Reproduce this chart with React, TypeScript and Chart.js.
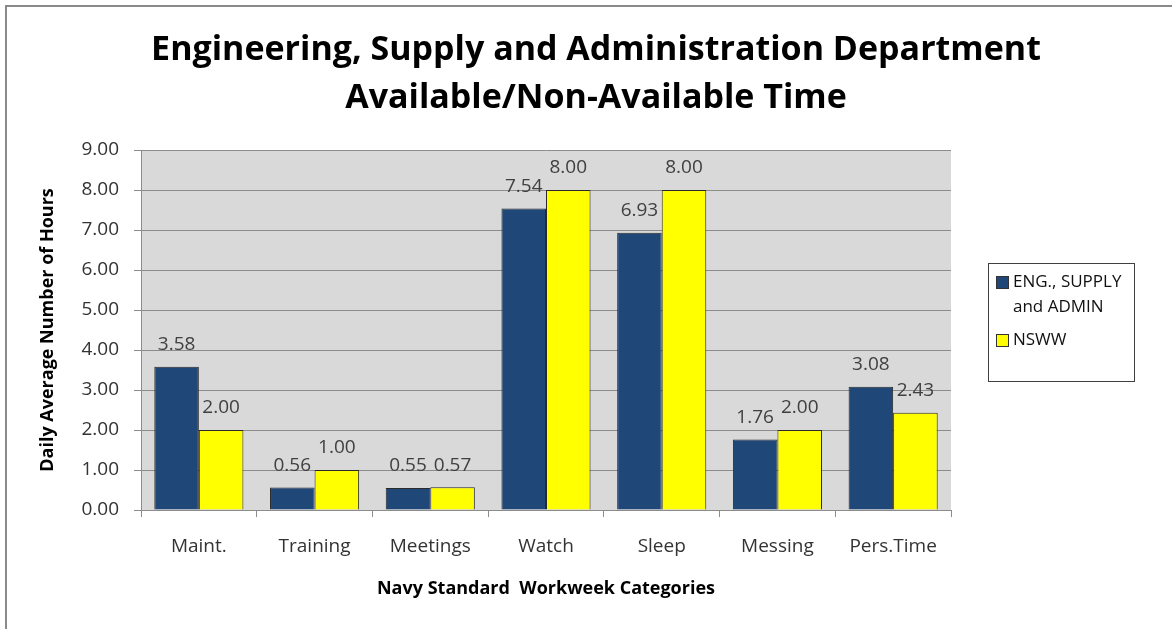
import React, { useEffect, useRef } from "react";
import { Chart, registerables } from "chart.js";

Chart.register(...registerables);

const titleLines = ["Engineering, Supply and Administration Department", "Available/Non-Available Time"];
const categories = ["Maint.", "Training", "Meetings", "Watch", "Sleep", "Messing", "Pers.Time"];
const engLabel = "ENG., SUPPLY and ADMIN";
const engLegendLines = ["ENG., SUPPLY", "and ADMIN"];
const engValues = [3.58, 0.56, 0.55, 7.54, 6.93, 1.76, 3.08];
const nswwLabel = "NSWW";
const nswwValues = [2.0, 1.0, 0.57, 8.0, 8.0, 2.0, 2.43];
const yTitle = "Daily Average Number of Hours";
const xTitle = "Navy Standard  Workweek Categories";
const yMin = 0;
const yMax = 9;
const yStep = 1;

const BLUE = "#1F4778";
const YELLOW = "#FFFF00";
const FONT = "'Open Sans', 'Noto Sans', sans-serif";

const framePlugin = {
  id: "frame",
  beforeDraw(chart: any) {
    const { ctx, chartArea } = chart;
    ctx.save();
    ctx.fillStyle = "#ffffff";
    ctx.fillRect(0, 0, chart.width, chart.height);
    ctx.fillStyle = "#8a8a8a";
    ctx.fillRect(5, 5, chart.width - 5, 2);
    ctx.fillRect(5, 5, 2, chart.height - 5);
    ctx.fillStyle = "#D9D9D9";
    ctx.fillRect(chartArea.left, chartArea.top, chartArea.right - chartArea.left, chartArea.bottom - chartArea.top);
    ctx.restore();
  },
};

const valueLabelPlugin = {
  id: "valueLabels",
  afterDatasetsDraw(chart: any) {
    const { ctx } = chart;
    ctx.save();
    ctx.font = `19px ${FONT}`;
    ctx.fillStyle = "#404040";
    ctx.textAlign = "center";
    ctx.textBaseline = "middle";
    chart.data.datasets.forEach((ds: any, di: number) => {
      const meta = chart.getDatasetMeta(di);
      meta.data.forEach((bar: any, i: number) => {
        ctx.fillText(Number(ds.data[i]).toFixed(2), bar.x, bar.y - 22);
      });
    });
    ctx.restore();
  },
};

const legendPlugin = {
  id: "customLegend",
  afterDraw(chart: any) {
    const { ctx } = chart;
    const ds = chart.data.datasets;
    ctx.save();
    ctx.strokeStyle = "#404040";
    ctx.lineWidth = 1;
    ctx.strokeRect(988.5, 263.5, 146, 118);
    ctx.font = `17px ${FONT}`;
    ctx.fillStyle = "#111111";
    ctx.textAlign = "left";
    ctx.textBaseline = "middle";
    const items = [
      { color: ds[0].backgroundColor, lines: engLegendLines, y: 282 },
      { color: ds[1].backgroundColor, lines: [ds[1].label], y: 340 },
    ];
    items.forEach((it) => {
      ctx.fillStyle = it.color;
      ctx.fillRect(996, it.y - 6, 13, 13);
      ctx.strokeStyle = "#333333";
      ctx.strokeRect(996.5, it.y - 5.5, 12, 12);
      ctx.fillStyle = "#111111";
      it.lines.forEach((line: string, k: number) => {
        ctx.fillText(line, 1013, it.y + k * 25);
      });
    });
    ctx.restore();
  },
};

export default function App() {
  const ref = useRef<HTMLCanvasElement>(null);
  useEffect(() => {
    document.body.style.margin = "0";
    const chart = new Chart(ref.current as HTMLCanvasElement, {
      type: "bar",
      data: {
        labels: categories,
        datasets: [
          {
            label: engLabel,
            data: engValues,
            backgroundColor: BLUE,
            borderColor: "#2a2a2a",
            borderWidth: 1,
            categoryPercentage: 0.77,
            barPercentage: 1,
            yAxisID: "y",
          },
          {
            label: nswwLabel,
            data: nswwValues,
            backgroundColor: YELLOW,
            borderColor: "#2a2a2a",
            borderWidth: 1,
            categoryPercentage: 0.77,
            barPercentage: 1,
            yAxisID: "y",
          },
        ],
      },
      options: {
        animation: false,
        responsive: false,
        layout: { padding: { top: 0, left: 20, right: 0, bottom: 29 } },
        plugins: {
          legend: { display: false },
          tooltip: { enabled: false },
          title: {
            display: true,
            text: titleLines,
            color: "#000000",
            font: { family: FONT, size: 34, weight: "bold", lineHeight: "48px" as any },
            padding: { top: 26, bottom: 28 },
          },
        },
        scales: {
          x: {
            grid: {
              display: true,
              drawOnChartArea: false,
              drawTicks: true,
              tickLength: 7,
              color: "#8c8c8c",
              offset: true,
            },
            border: { display: true, color: "#8c8c8c" },
            ticks: { color: "#333333", font: { family: FONT, size: 19 }, padding: 18 },
            title: {
              display: true,
              text: xTitle,
              color: "#000000",
              font: { family: FONT, size: 18, weight: "bold" },
              padding: { top: 5, bottom: 0 },
            },
            afterFit: (s: any) => {
              s.height = 90;
            },
          },
          y: {
            min: yMin,
            max: yMax,
            ticks: {
              stepSize: yStep,
              color: "#333333",
              font: { family: FONT, size: 19 },
              padding: 15,
              callback: (v: any) => Number(v).toFixed(2),
            },
            grid: { color: "#8c8c8c", lineWidth: 1, tickLength: 7, drawTicks: true },
            border: { display: true, color: "#8c8c8c" },
            title: {
              display: true,
              text: yTitle,
              color: "#000000",
              font: { family: FONT, size: 18, weight: "bold" },
              padding: { top: 17, bottom: 0 },
            },
            afterFit: (s: any) => {
              s.width = 121;
            },
          },
          y2: {
            position: "right",
            display: true,
            ticks: { display: false },
            grid: { display: false, drawTicks: false },
            border: { display: false },
            afterFit: (s: any) => {
              s.width = 221;
            },
          },
        },
      },
      plugins: [framePlugin, valueLabelPlugin, legendPlugin],
    });
    return () => chart.destroy();
  }, []);
  return (
    <div style={{ width: 1172, height: 629 }}>
      <canvas ref={ref} width={1172} height={629} />
    </div>
  );
}
